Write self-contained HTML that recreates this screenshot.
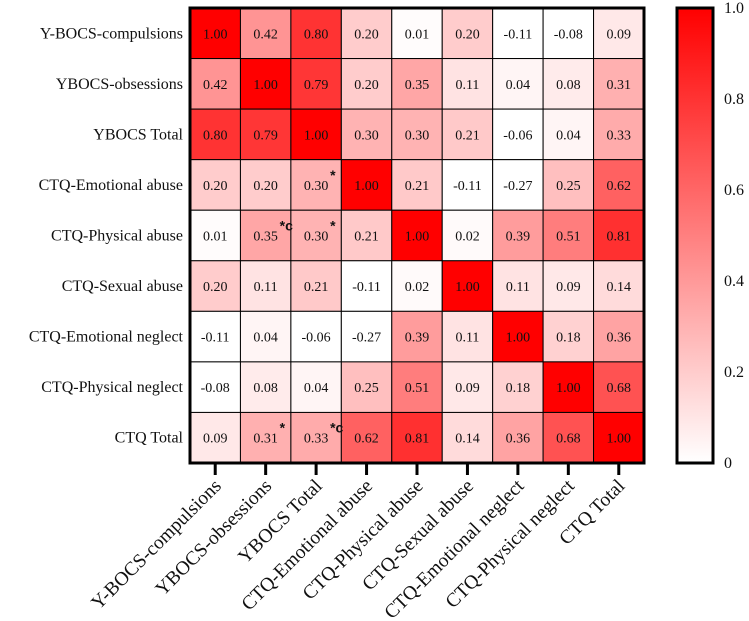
<!DOCTYPE html>
<html><head><meta charset="utf-8"><style>
html,body{margin:0;padding:0;background:#fff;}
svg{display:block;font-family:"Liberation Serif",serif;}
</style></head><body>
<svg id="chart" width="749" height="621" viewBox="0 0 749 621" xmlns="http://www.w3.org/2000/svg">
<defs><linearGradient id="cbg" x1="0" y1="1" x2="0" y2="0"><stop offset="0" stop-color="#fff"/><stop offset="1" stop-color="#ff0000"/></linearGradient></defs>
<g id="cells"></g><g id="labels"></g>
<rect x="190" y="8" width="454" height="455" fill="none" stroke="#000" stroke-width="3"/>
<g id="cbar"></g>
</svg>
<script>
const categories = ["Y-BOCS-compulsions","YBOCS-obsessions","YBOCS Total","CTQ-Emotional abuse","CTQ-Physical abuse","CTQ-Sexual abuse","CTQ-Emotional neglect","CTQ-Physical neglect","CTQ Total"];
const row0 = [1.00,0.42,0.80,0.20,0.01,0.20,-0.11,-0.08,0.09];
const row1 = [0.42,1.00,0.79,0.20,0.35,0.11,0.04,0.08,0.31];
const row2 = [0.80,0.79,1.00,0.30,0.30,0.21,-0.06,0.04,0.33];
const row3 = [0.20,0.20,0.30,1.00,0.21,-0.11,-0.27,0.25,0.62];
const row4 = [0.01,0.35,0.30,0.21,1.00,0.02,0.39,0.51,0.81];
const row5 = [0.20,0.11,0.21,-0.11,0.02,1.00,0.11,0.09,0.14];
const row6 = [-0.11,0.04,-0.06,-0.27,0.39,0.11,1.00,0.18,0.36];
const row7 = [-0.08,0.08,0.04,0.25,0.51,0.09,0.18,1.00,0.68];
const row8 = [0.09,0.31,0.33,0.62,0.81,0.14,0.36,0.68,1.00];
const matrix = [row0,row1,row2,row3,row4,row5,row6,row7,row8];
const marks = [[3,2,"*"],[4,1,"*c"],[4,2,"*"],[8,1,"*"],[8,2,"*c"]];
const cbTicks = [0,0.2,0.4,0.6,0.8,1.0];
const cbTickLabels = ["0","0.2","0.4","0.6","0.8","1.0"];

const NS="http://www.w3.org/2000/svg";
const X0=190,Y0=8,W=454,H=455,n=categories.length,cw=W/n,ch=H/n;
const xPos=i=>X0+i*cw, yPos=j=>Y0+j*ch;
const cbY=v=>463-v*455;
function el(t,a,p){const e=document.createElementNS(NS,t);for(const k in a)e.setAttribute(k,a[k]);p.appendChild(e);return e;}
function color(v){const t=Math.max(0,Math.min(1,v));const g=Math.round(255*(1-t));return `rgb(255,${g},${g})`;}
const cells=document.getElementById('cells'),labels=document.getElementById('labels'),cbar=document.getElementById('cbar');
matrix.forEach((row,r)=>row.forEach((v,c)=>{
  const rc=el('rect',{x:xPos(c),y:yPos(r),width:cw,height:ch,fill:color(v),stroke:'#000','stroke-width':1},cells);
  
  
  const tx=el('text',{x:xPos(c)+cw/2,y:yPos(r)+ch/2+5,'text-anchor':'middle','font-size':14,fill:'#111'},cells);
  tx.textContent=v.toFixed(2);
  
  
}));
marks.forEach(m=>{
  const t=el('text',{x:xPos(m[1])+cw/2+14,y:yPos(m[0])+ch/2-5,'font-size':14,'font-weight':'bold','font-family':'Liberation Sans, sans-serif',fill:'#111'},cells);
  t.textContent=m[2];
  
  
});
categories.forEach((c,i)=>{
  const t=el('text',{x:183,y:yPos(i)+ch/2+5,'text-anchor':'end','font-size':16,fill:'#111'},labels);
  t.textContent=c;
  
  
  const x=xPos(i)+cw/2;
  const tk=el('line',{x1:x,y1:463,x2:x,y2:475,stroke:'#000','stroke-width':3},labels);
  
  
  const xt=el('text',{x:x+7,y:487,'text-anchor':'end','font-size':19.5,fill:'#111',transform:`rotate(-45 ${x+7} 487)`},labels);
  xt.textContent=c;
  
  
});
const cb=el('rect',{x:677,y:8,width:36,height:455,fill:'url(#cbg)',stroke:'#000','stroke-width':3},cbar);


cbTicks.forEach((v,i)=>{
  const t=el('text',{x:724,y:cbY(v)+5,'font-size':16,fill:'#111'},cbar);
  t.textContent=cbTickLabels[i];
  
  
});
</script>
</body></html>
